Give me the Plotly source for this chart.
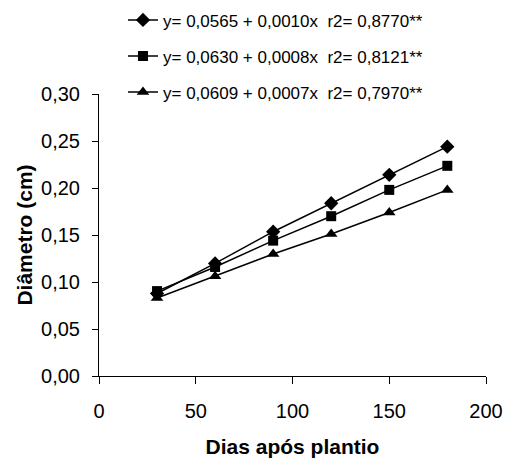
import plotly.graph_objects as go

dias = [30, 60, 90, 120, 150, 180]
serie1 = [0.0878, 0.1198, 0.1535, 0.1838, 0.2140, 0.2440]
serie2 = [0.0903, 0.1160, 0.1440, 0.1700, 0.1980, 0.2236]
serie3 = [0.0830, 0.1060, 0.1297, 0.1510, 0.1740, 0.1980]
nomes = [
    "y= 0,0565 + 0,0010x&nbsp;&nbsp;r2= 0,8770**",
    "y= 0,0630 + 0,0008x&nbsp;&nbsp;r2= 0,8121**",
    "y= 0,0609 + 0,0007x&nbsp;&nbsp;r2= 0,7970**",
]
simbolos = ["diamond", "square", "triangle-up"]
tamanhos = [11, 10, 11]

fig = go.Figure()
for i, (ys, nome, sim, tam) in enumerate(zip([serie1, serie2, serie3], nomes, simbolos, tamanhos)):
    fig.add_trace(go.Scatter(
        x=dias, y=ys, name=nome, mode="lines+markers",
        legendgroup=f"g{i}",
        line=dict(color="black", width=1.5),
        marker=dict(symbol=sim, size=tam, color="black"),
    ))

fig.update_layout(
    width=507, height=460,
    margin=dict(l=99, r=21, t=94, b=84, autoexpand=False),
    paper_bgcolor="white", plot_bgcolor="white",
    separators=",.",
    font=dict(family="Liberation Sans, Arial, sans-serif", color="black"),
    showlegend=True,
    legend=dict(
        x=0.062, y=1.325, xanchor="left", yanchor="top",
        font=dict(size=17, color="black"),
        bgcolor="rgba(0,0,0,0)",
        traceorder="grouped", tracegroupgap=11, itemwidth=30,
    ),
    xaxis=dict(
        range=[0, 200], tickvals=[0, 50, 100, 150, 200],
        showgrid=False, zeroline=False,
        showline=True, linecolor="black", linewidth=1,
        ticks="outside", ticklen=7, tickcolor="black",
        ticklabelstandoff=10,
        tickfont=dict(size=20),
        title=dict(text="<b>Dias após plantio</b>", font=dict(size=21), standoff=18),
    ),
    yaxis=dict(
        range=[0, 0.30], tickvals=[0, 0.05, 0.10, 0.15, 0.20, 0.25, 0.30],
        tickformat=".2f",
        showgrid=False, zeroline=False,
        showline=True, linecolor="black", linewidth=1,
        ticks="outside", ticklen=6, tickcolor="black",
        ticklabelstandoff=8,
        tickfont=dict(size=20),
        title=dict(text="<b>Diâmetro (cm)</b>", font=dict(size=21), standoff=2),
    ),
)

fig.write_html("out.html")
